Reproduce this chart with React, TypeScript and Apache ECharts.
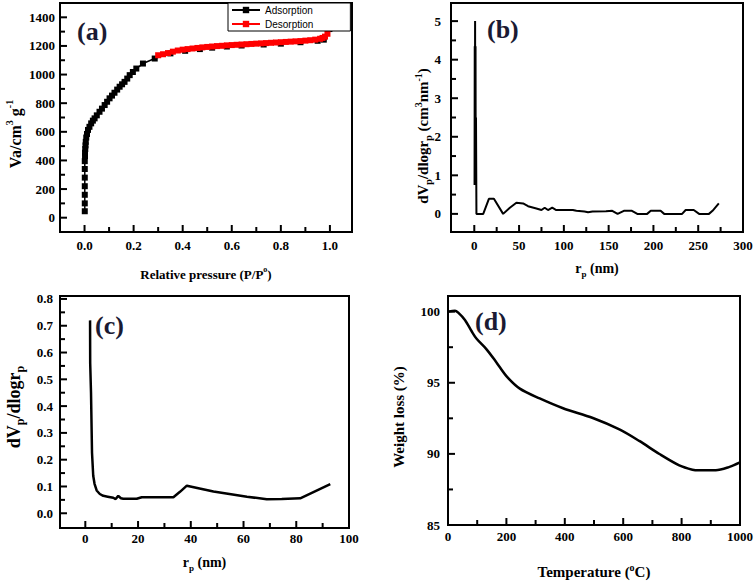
import React, { useEffect, useRef } from 'react';
import * as echarts from 'echarts';

const FONT = "'Liberation Serif', 'Times New Roman', serif";
const SANS = "'Liberation Sans', Arial, sans-serif";

// (a) N2 isotherm
const adsorptionP = [0.001, 0.001, 0.001, 0.001, 0.001, 0.001, 0.001, 0.002, 0.002, 0.003, 0.004, 0.005, 0.007, 0.010, 0.014, 0.020, 0.027, 0.034, 0.041, 0.050, 0.061, 0.071, 0.082, 0.092, 0.102, 0.112, 0.122, 0.133, 0.143, 0.153, 0.163, 0.174, 0.184, 0.197, 0.211, 0.238, 0.286, 0.35, 0.41, 0.47, 0.52, 0.58, 0.64, 0.73, 0.80, 0.88, 0.95, 0.975, 0.998];
const adsorptionV = [45, 100, 160, 220, 280, 340, 395, 430, 455, 480, 505, 530, 560, 585, 613, 635, 659, 678, 694, 715, 740, 762, 787, 810, 834, 853, 873, 895, 915, 932, 949, 972, 996, 1018, 1042, 1077, 1112, 1148, 1166, 1178, 1188, 1196, 1203, 1210, 1216, 1226, 1236, 1244, 1318];
const desorptionP = [0.30, 0.32, 0.34, 0.36, 0.38, 0.40, 0.42, 0.44, 0.46, 0.48, 0.50, 0.52, 0.54, 0.56, 0.58, 0.60, 0.62, 0.64, 0.66, 0.68, 0.70, 0.72, 0.74, 0.76, 0.78, 0.80, 0.82, 0.84, 0.86, 0.88, 0.90, 0.92, 0.94, 0.96, 0.97, 0.98, 0.99];
const desorptionV = [1135, 1142, 1150, 1160, 1168, 1174, 1178, 1182, 1186, 1190, 1193, 1196, 1199, 1201, 1204, 1206, 1208, 1210, 1212, 1214, 1216, 1218, 1220, 1222, 1224, 1226, 1228, 1230, 1232, 1234, 1237, 1240, 1244, 1250, 1256, 1265, 1285];

// (b) pore size distribution (wide)
const poreBr = [0.3, 0.5, 0.7, 0.9, 1.1, 1.4, 1.6, 1.9, 2.4, 10, 16.3, 21.9, 32.2, 39.7, 47, 54.5, 60, 69.3, 75, 78.6, 82.3, 87, 91.5, 110, 114, 123, 127, 132, 147, 154, 160, 167, 176, 182, 193, 197, 208, 212, 232, 236, 245, 251, 262, 266, 273];
const poreBv = [0.75, 4.35, 0.75, 5.0, 0.75, 4.35, 0.75, 2.5, 0, 0, 0.39, 0.39, 0, 0.16, 0.29, 0.27, 0.2, 0.14, 0.1, 0.16, 0.1, 0.16, 0.1, 0.1, 0.08, 0.06, 0.04, 0.06, 0.07, 0.08, 0, 0.08, 0.08, 0, 0, 0.08, 0.08, 0, 0, 0.1, 0.1, 0, 0, 0.08, 0.27];

// (c) pore size distribution (narrow)
const poreCr = [1.8, 1.85, 2.16, 2.54, 3.0, 3.5, 4.3, 5.5, 6.8, 8.5, 10.6, 11.5, 12.5, 13.5, 14.4, 19.5, 21.4, 33.4, 35.9, 38.5, 48.6, 61.3, 68.8, 74.5, 81.5, 92.9];
const poreCv = [0.72, 0.56, 0.45, 0.226, 0.14, 0.11, 0.085, 0.072, 0.065, 0.062, 0.058, 0.053, 0.065, 0.056, 0.054, 0.054, 0.06, 0.06, 0.08, 0.103, 0.081, 0.062, 0.052, 0.053, 0.056, 0.109];

// (d) TGA
const tempD = [0, 24, 35, 58, 81, 98, 132, 166, 200, 246, 314, 394, 496, 587, 655, 724, 792, 837, 860, 917, 962, 1000];
const weightD = [100, 100.07, 99.93, 99.42, 98.62, 98.09, 97.35, 96.43, 95.47, 94.59, 93.9, 93.21, 92.52, 91.72, 90.91, 89.99, 89.19, 88.89, 88.85, 88.85, 89.07, 89.4];

// tick values
const aXMajor = [0, 0.2, 0.4, 0.6, 0.8, 1.0];
const aXMinor = [0.1, 0.3, 0.5, 0.7, 0.9];
const aYMajor = [0, 200, 400, 600, 800, 1000, 1200, 1400];
const aYMinor = [100, 300, 500, 700, 900, 1100, 1300];
const bXMajor = [0, 50, 100, 150, 200, 250, 300];
const bXMinor = [25, 75, 125, 175, 225, 275];
const bYMajor = [0, 1, 2, 3, 4, 5];
const bYMinor = [0.5, 1.5, 2.5, 3.5, 4.5];
const cXMajor = [0, 20, 40, 60, 80, 100];
const cXMinor = [10, 30, 50, 70, 90];
const cYMajor = [0, 0.1, 0.2, 0.3, 0.4, 0.5, 0.6, 0.7, 0.8];
const cYMinor = [0.05, 0.15, 0.25, 0.35, 0.45, 0.55, 0.65, 0.75];
const dXMajor = [0, 200, 400, 600, 800, 1000];
const dXMinor = [100, 300, 500, 700, 900];
const dYMajor = [85, 90, 95, 100];
const dYMinor = [87.5, 92.5, 97.5];

// axis titles
const aXTitle = 'Relative pressure (P/P{sup|o})';
const aYTitle = 'Va/cm{sup|3} g{sup|-1}';
const bXTitle = 'r{sub|p} (nm)';
const bYTitle = 'dV{sub|p}/dlogr{sub|p} (cm{sup|3}nm{sup|-1})';
const cXTitle = 'r{sub|p} (nm)';
const cYTitle = 'dV{sub|p}/dlogr{sub|p}';
const dXTitle = 'Temperature ({sup|o}C)';
const dYTitle = 'Weight loss (%)';

function richFor(size: number) {
  const s = Math.round(size * 0.65);
  return {
    sup: { fontFamily: FONT, fontWeight: 'bold', fontSize: s, fill: '#000', color: '#000', verticalAlign: 'top' },
    sub: { fontFamily: FONT, fontWeight: 'bold', fontSize: s, fill: '#000', color: '#000', verticalAlign: 'bottom' },
  };
}

function nameStyle(size: number) {
  return {
    fontFamily: FONT, fontWeight: 'bold', fontSize: size, color: '#000',
    lineHeight: size + 5, rich: richFor(size),
  };
}

function axis(dim: 'x' | 'y', grid: number, min: number, max: number, major: number[],
  fmt: (v: number) => string, margin: number, name: string, gap: number, size: number) {
  return {
    type: 'value', gridIndex: grid, position: dim === 'x' ? 'bottom' : 'left', min, max,
    name, nameLocation: 'middle', nameGap: gap, nameTextStyle: nameStyle(size),
    axisLine: { show: true, onZero: false, lineStyle: { color: '#000', width: 2 } },
    axisTick: { show: false },
    axisLabel: { show: true, customValues: major, formatter: fmt, margin, color: '#000', fontFamily: FONT, fontWeight: 'bold', fontSize: 13 },
    splitLine: { show: false },
  };
}

// inward tick marks drawn through the axes' own coordinate system
function tickSeries(idx: number, xMin: number, yMin: number, xMajor: number[], xMinor: number[], yMajor: number[], yMinor: number[]) {
  const data = [
    ...xMajor.map((v) => ({ value: [v, yMin], len: 7, onX: true })),
    ...xMinor.map((v) => ({ value: [v, yMin], len: 5, onX: true })),
    ...yMajor.map((v) => ({ value: [xMin, v], len: 7, onX: false })),
    ...yMinor.map((v) => ({ value: [xMin, v], len: 5, onX: false })),
  ];
  return {
    type: 'custom', xAxisIndex: idx, yAxisIndex: idx, silent: true, z: 10, clip: false,
    data: data.map((d) => d.value),
    renderItem: (params: any, api: any) => {
      const d = data[params.dataIndex];
      const p = api.coord(d.value);
      return {
        type: 'line',
        shape: d.onX
          ? { x1: p[0], y1: p[1], x2: p[0], y2: p[1] - d.len }
          : { x1: p[0], y1: p[1], x2: p[0] + d.len, y2: p[1] },
        style: { stroke: '#000', lineWidth: 2 },
      };
    },
  };
}

function yTitle(text: string, cx: number, cy: number, size: number) {
  return {
    type: 'text', x: cx, y: cy, rotation: Math.PI / 2,
    style: {
      text, align: 'center', verticalAlign: 'middle',
      fontFamily: FONT, fontWeight: 'bold', fontSize: size, fill: '#000',
      lineHeight: size + 5, rich: richFor(size),
    },
  };
}

const f1 = (v: number) => v.toFixed(1);
const f0 = (v: number) => String(Math.round(v));

// axis ranges
const aX = [-0.1, 1.09], aY = [-100, 1500];
const bX = [-26, 300], bY = [-0.47, 5.47];
const cX = [-9.6, 100], cY = [-0.055, 0.811];
const dX = [0, 1000], dY = [85, 101.1];

export default function App() {
  const ref = useRef<HTMLDivElement>(null);
  useEffect(() => {
    if (!ref.current) return;
    const chart = echarts.init(ref.current, undefined, { renderer: 'svg' });
    const gridBase = { show: true, borderColor: '#000', borderWidth: 2, backgroundColor: 'transparent' };
    const label = (text: string, left: number, top: number) => ({
      type: 'text', left, top, style: { text, font: `bold 26px ${FONT}`, fill: '#1a1a33' },
    });
    const option: any = {
      animation: false,
      backgroundColor: '#fff',
      grid: [
        { ...gridBase, left: 60, top: 3, width: 292, height: 229 },
        { ...gridBase, left: 451, top: 3, width: 292, height: 229 },
        { ...gridBase, left: 60, top: 296, width: 289, height: 232 },
        { ...gridBase, left: 448, top: 296, width: 293, height: 233 },
      ],
      xAxis: [
        axis('x', 0, aX[0], aX[1], aXMajor, f1, 7, aXTitle, 33, 13),
        axis('x', 1, bX[0], bX[1], bXMajor, f0, 7, bXTitle, 27, 14),
        axis('x', 2, cX[0], cX[1], cXMajor, f0, 4, cXTitle, 25, 14),
        axis('x', 3, dX[0], dX[1], dXMajor, f0, 5, dXTitle, 37, 15),
      ],
      yAxis: [
        axis('y', 0, aY[0], aY[1], aYMajor, f0, 5, '', 36, 16),
        axis('y', 1, bY[0], bY[1], bYMajor, f0, 10, '', 20, 15),
        axis('y', 2, cY[0], cY[1], cYMajor, f1, 7, '', 37, 17),
        axis('y', 3, dY[0], dY[1], dYMajor, f0, 8, '', 40, 15),
      ],
      legend: {
        show: true,
        data: ['Adsorption', 'Desorption'],
        orient: 'vertical',
        left: 228, top: 3,
        padding: [1, 37, 1, 3],
        itemGap: 2, itemWidth: 28, itemHeight: 8,
        borderColor: '#000', borderWidth: 1, borderRadius: 0,
        backgroundColor: '#fff',
        selectedMode: false,
        textStyle: { fontFamily: SANS, fontSize: 10, color: '#000', lineHeight: 12 },
      },
      graphic: [
        label('(a)', 77, 18),
        label('(b)', 487, 16),
        label('(c)', 95, 312),
        label('(d)', 475, 308),
        yTitle(aYTitle, 15, 134, 16),
        yTitle(bYTitle, 423, 136, 15),
        yTitle(cYTitle, 14, 407, 18),
        yTitle(dYTitle, 399, 417, 15),
      ],
      series: [
        {
          type: 'line', name: 'Adsorption', xAxisIndex: 0, yAxisIndex: 0,
          data: adsorptionP.map((p, i) => [p, adsorptionV[i]]),
          symbol: 'rect', symbolSize: 6, showSymbol: true,
          itemStyle: { color: '#000' }, lineStyle: { color: '#000', width: 1.5 },
        },
        {
          type: 'line', name: 'Desorption', xAxisIndex: 0, yAxisIndex: 0,
          data: desorptionP.map((p, i) => [p, desorptionV[i]]),
          symbol: 'rect', symbolSize: 6, showSymbol: true,
          itemStyle: { color: '#ff0000' }, lineStyle: { color: '#ff0000', width: 1.5 },
        },
        {
          type: 'line', xAxisIndex: 1, yAxisIndex: 1,
          data: poreBr.map((r, i) => [r, poreBv[i]]),
          showSymbol: false, lineStyle: { color: '#000', width: 2 },
        },
        {
          type: 'line', xAxisIndex: 2, yAxisIndex: 2,
          data: poreCr.map((r, i) => [r, poreCv[i]]),
          showSymbol: false, lineStyle: { color: '#000', width: 2.5 },
        },
        {
          type: 'line', xAxisIndex: 3, yAxisIndex: 3,
          data: tempD.map((t, i) => [t, weightD[i]]),
          showSymbol: false, smooth: 0.3, lineStyle: { color: '#000', width: 2.5 },
        },
        tickSeries(0, aX[0], aY[0], aXMajor, aXMinor, aYMajor, aYMinor),
        tickSeries(1, bX[0], bY[0], bXMajor, bXMinor, bYMajor, bYMinor),
        tickSeries(2, cX[0], cY[0], cXMajor, cXMinor, cYMajor, cYMinor),
        tickSeries(3, dX[0], dY[0], dXMajor, dXMinor, dYMajor, dYMinor),
      ],
    };
    chart.setOption(option);
    return () => chart.dispose();
  }, []);
  return <div ref={ref} style={{ position: 'fixed', left: 0, top: 0, width: 756, height: 583, background: '#fff' }} />;
}
